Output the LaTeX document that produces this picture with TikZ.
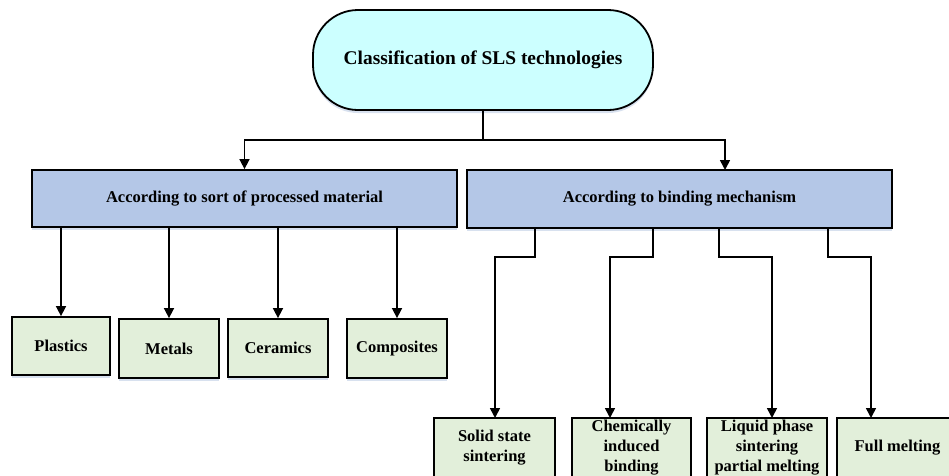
\documentclass[tikz,border=0pt]{standalone}
\usepackage{fontspec}
\setmainfont{Liberation Serif}
\usetikzlibrary{arrows.meta,shadows}
\definecolor{topfill}{HTML}{CCFFFF}
\definecolor{midfill}{HTML}{B4C7E7}
\definecolor{botfill}{HTML}{E2EFDA}
\definecolor{shcol}{HTML}{C8D4E8}
\tikzset{
  boxbase/.style={draw=black, line width=1.8pt, inner sep=0pt, align=center,
     font=\fontsize{16.5}{20}\selectfont\bfseries,
     drop shadow={shadow xshift=0pt, shadow yshift=-3pt, fill=shcol, opacity=0.7}},
  topbox/.style={boxbase, fill=topfill, rounded corners=45pt, font=\fontsize{19.4}{23}\selectfont\bfseries},
  midbox/.style={boxbase, fill=midfill},
  botbox/.style={boxbase, fill=botfill},
  arr/.style={draw=black, line width=1.6pt, -{Triangle[width=10pt,length=10pt]}},
  ln/.style={draw=black, line width=1.6pt}
}
\begin{document}
\begin{tikzpicture}[x=1pt,y=-1pt]
\useasboundingbox (0,0) rectangle (949,475);
\clip (0,0) rectangle (949,475);
\node[topbox, minimum width=340pt, minimum height=100pt] (top) at (483,60) {Classification of SLS technologies};
\node[midbox, minimum width=425pt, minimum height=57pt] (m1) at (244.5,198.5) {According to sort of processed material};
\node[midbox, minimum width=425pt, minimum height=58pt] (m2) at (679.5,199) {According to binding mechanism};
\node[botbox, minimum width=98pt, minimum height=58pt] (b1) at (61,346) {Plastics};
\node[botbox, minimum width=100pt, minimum height=59pt] (b2) at (169,348.5) {Metals};
\node[botbox, minimum width=100pt, minimum height=58pt] (b3) at (278,348) {Ceramics};
\node[botbox, minimum width=100pt, minimum height=59pt] (b4) at (397,348.5) {Composites};
\node[botbox, minimum width=121pt, minimum height=60pt] (c1) at (494.5,448) {Solid state\\sintering};
\node[botbox, minimum width=119pt, minimum height=60pt] (c2) at (631.5,448) {Chemically\\induced\\binding};
\node[botbox, minimum width=120pt, minimum height=60pt] (c3) at (767,448) {Liquid phase\\sintering\\partial melting};
\node[botbox, minimum width=121pt, minimum height=60pt] (c4) at (897.5,448) {Full melting};
% hub
\coordinate (m2in) at (725,170);
\draw[arr] (top.south) -- ++(0,29) -| (m1.north);
\draw[arr] (top.south) -- ++(0,29) -| (m2in);
% left branch
\draw[arr] (b1.north |- m1.south) -- (b1.north);
\draw[arr] (b2.north |- m1.south) -- (b2.north);
\draw[arr] (b3.north |- m1.south) -- (b3.north);
\draw[arr] (b4.north |- m1.south) -- (b4.north);
% right branch
\coordinate (r1) at (535,228);
\coordinate (r2) at (653,228);
\coordinate (r3) at (719,228);
\coordinate (r4) at (828,228);
\coordinate (c1in) at (495,418);
\coordinate (c2in) at (610,418);
\coordinate (c3in) at (772,418);
\coordinate (c4in) at (871,418);
\draw[arr] (r1) -- ++(0,29) -| (c1in);
\draw[arr] (r2) -- ++(0,29) -| (c2in);
\draw[arr] (r3) -- ++(0,29) -| (c3in);
\draw[arr] (r4) -- ++(0,29) -| (c4in);
\end{tikzpicture}
\end{document}
